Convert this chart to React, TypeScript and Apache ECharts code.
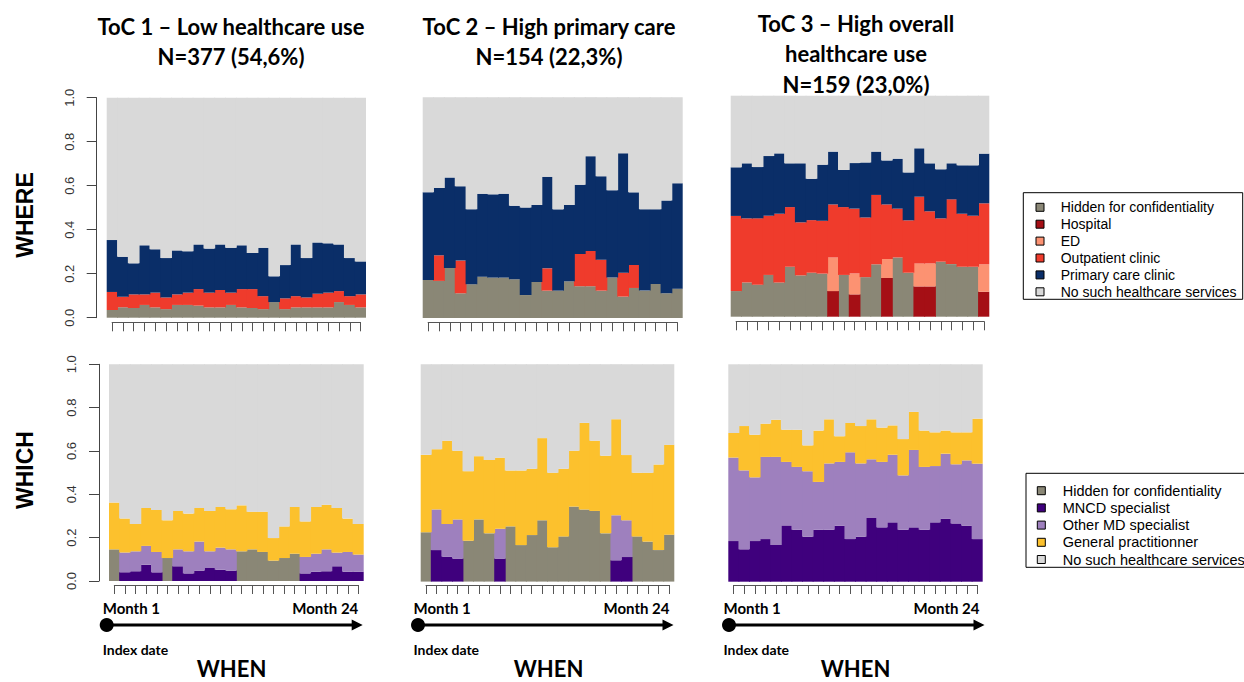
import React, { useEffect, useRef } from "react";
import * as echarts from "echarts";

// ---------- data ----------
const months = ["1","2","3","4","5","6","7","8","9","10","11","12","13","14","15","16","17","18","19","20","21","22","23","24"];

const whereNames = ["Hidden for confidentiality", "Hospital", "ED", "Outpatient clinic", "Primary care clinic", "No such healthcare services"];
const whichNames = ["Hidden for confidentiality", "MNCD specialist", "Other MD specialist", "General practitionner", "No such healthcare services"];

const titles = [
  ["ToC 1 – Low healthcare use", "N=377 (54,6%)"],
  ["ToC 2 – High primary care", "N=154 (22,3%)"],
  ["ToC 3 – High overall", "healthcare use", "N=159 (23,0%)"],
];

// WHERE — ToC 1
const toc1Hidden = [0.035,0.047,0.044,0.058,0.047,0.039,0.058,0.058,0.055,0.047,0.047,0.058,0.047,0.044,0.039,0.071,0.039,0.047,0.047,0.047,0.047,0.071,0.058,0.047];
const toc1Hospital = [0,0,0,0,0,0,0,0,0,0,0,0,0,0,0,0,0,0,0,0,0,0,0,0];
const toc1ED = [0,0,0,0,0,0,0,0,0,0,0,0,0,0,0,0,0,0,0,0,0,0,0,0];
const toc1Outpatient = [0.082,0.048,0.062,0.048,0.067,0.053,0.048,0.056,0.075,0.067,0.079,0.056,0.083,0.086,0.059,0,0.049,0.051,0.045,0.062,0.067,0.050,0.040,0.059];
const toc1Primary = [0.236,0.182,0.141,0.223,0.197,0.179,0.200,0.188,0.203,0.200,0.207,0.204,0.199,0.164,0.220,0.117,0.151,0.235,0.179,0.233,0.224,0.212,0.173,0.150];

// WHERE — ToC 2
const toc2Hidden = [0.172,0.168,0.227,0.112,0.153,0.187,0.183,0.183,0.175,0.104,0.163,0.124,0.124,0.166,0.144,0.144,0.124,0.183,0.097,0.136,0.124,0.154,0.112,0.133];
const toc2Hospital = [0,0,0,0,0,0,0,0,0,0,0,0,0,0,0,0,0,0,0,0,0,0,0,0];
const toc2ED = [0,0,0,0,0,0,0,0,0,0,0,0,0,0,0,0,0,0,0,0,0,0,0,0];
const toc2Outpatient = [0,0.116,0,0.148,0,0,0,0,0,0,0,0.101,0,0,0.146,0.160,0.140,0,0.108,0.104,0,0,0,0];
const toc2Primary = [0.397,0.305,0.409,0.337,0.339,0.376,0.377,0.380,0.333,0.396,0.349,0.415,0.368,0.346,0.313,0.429,0.378,0.396,0.541,0.329,0.368,0.338,0.420,0.477];

// WHERE — ToC 3
const toc3Hidden = [0.116,0.155,0.145,0.189,0.155,0.226,0.187,0.199,0.195,0,0.189,0,0.179,0.237,0,0.268,0.199,0,0,0.249,0.238,0.226,0.226,0];
const toc3Hospital = [0,0,0,0,0,0,0,0,0,0.116,0,0.101,0,0,0.175,0,0,0.137,0.137,0,0,0,0,0.113];
const toc3ED = [0,0,0,0,0,0,0,0,0,0.152,0,0.094,0,0,0.086,0,0,0.104,0.104,0,0,0,0,0.124];
const toc3Outpatient = [0.340,0.290,0.300,0.268,0.311,0.270,0.240,0.238,0.239,0.240,0.307,0.294,0.270,0.314,0.247,0.221,0.237,0.302,0.236,0.196,0.293,0.240,0.231,0.276];
const toc3Primary = [0.220,0.249,0.232,0.270,0.273,0.198,0.267,0.187,0.254,0.239,0.168,0.206,0.249,0.196,0.199,0.226,0.217,0.219,0.217,0.222,0.163,0.219,0.228,0.225];

// WHICH — ToC 1
const toc1WHidden = [0.146,0,0,0,0,0.106,0,0,0,0,0,0,0.137,0.146,0.134,0.094,0.106,0.126,0,0,0,0,0,0];
const toc1Mncd = [0,0.040,0.045,0.075,0.040,0,0.068,0.035,0.048,0.060,0.052,0.048,0,0,0,0,0,0,0.035,0.043,0.045,0.068,0.043,0.043];
const toc1Other = [0,0.091,0.092,0.087,0.094,0,0.078,0.102,0.134,0.077,0.102,0.098,0,0,0,0,0,0,0.076,0.083,0.101,0.063,0.091,0.079];
const toc1Gp = [0.216,0.157,0.126,0.175,0.194,0.174,0.177,0.174,0.155,0.186,0.188,0.185,0.212,0.174,0.186,0.104,0.146,0.216,0.164,0.216,0.206,0.206,0.154,0.141];

// WHICH — ToC 2
const toc2WHidden = [0.227,0,0,0,0.188,0.286,0.222,0,0.254,0.168,0.214,0.282,0.158,0.208,0.345,0.332,0.325,0.222,0,0,0.208,0.184,0.145,0.216];
const toc2Mncd = [0,0.145,0.115,0.106,0,0,0,0.106,0,0,0,0,0,0,0,0,0,0,0.098,0.113,0,0,0,0];
const toc2Other = [0,0.187,0.150,0.180,0,0,0,0.137,0,0,0,0,0,0,0,0,0,0,0.207,0.169,0,0,0,0];
const toc2Gp = [0.356,0.277,0.383,0.316,0.320,0.291,0.337,0.327,0.257,0.343,0.305,0.378,0.343,0.311,0.257,0.398,0.323,0.357,0.442,0.300,0.293,0.317,0.394,0.413];

// WHICH — ToC 3
const toc3WHidden = [0,0,0,0,0,0,0,0,0,0,0,0,0,0,0,0,0,0,0,0,0,0,0,0];
const toc3Mncd = [0.187,0.149,0.187,0.196,0.169,0.259,0.239,0.207,0.239,0.239,0.258,0.196,0.207,0.293,0.250,0.273,0.239,0.250,0.239,0.273,0.290,0.268,0.258,0.196];
const toc3Other = [0.384,0.363,0.293,0.378,0.405,0.292,0.289,0.301,0.220,0.305,0.293,0.399,0.337,0.270,0.301,0.311,0.250,0.356,0.289,0.259,0.299,0.272,0.300,0.347];
const toc3Gp = [0.113,0.204,0.196,0.153,0.171,0.148,0.171,0.119,0.236,0.203,0.118,0.135,0.172,0.184,0.158,0.135,0.167,0.175,0.167,0.155,0.106,0.147,0.129,0.207];

const yTicks = [0, 0.2, 0.4, 0.6, 0.8, 1.0];

// ---------- styling ----------
const whereColors = ["#8a8776", "#a50f15", "#fc9272", "#ef3b2c", "#0a2e68", "#d9d9d9"];
const whichColors = ["#8a8776", "#3f007d", "#9e80be", "#fcc12d", "#d9d9d9"];

const whereData = [
  [toc1Hidden, toc1Hospital, toc1ED, toc1Outpatient, toc1Primary],
  [toc2Hidden, toc2Hospital, toc2ED, toc2Outpatient, toc2Primary],
  [toc3Hidden, toc3Hospital, toc3ED, toc3Outpatient, toc3Primary],
];
const whichData = [
  [toc1WHidden, toc1Mncd, toc1Other, toc1Gp],
  [toc2WHidden, toc2Mncd, toc2Other, toc2Gp],
  [toc3WHidden, toc3Mncd, toc3Other, toc3Gp],
];

// plot boxes (px)
const boxes = [
  { left: 106.7, top: 97.7, width: 259.3, height: 220, tickY: 322.3 },
  { left: 422.7, top: 97.2, width: 260, height: 220.8, tickY: 322.3 },
  { left: 730.7, top: 95.7, width: 258.6, height: 221, tickY: 321.3 },
  { left: 109, top: 364.3, width: 254.7, height: 216.7, tickY: 585 },
  { left: 420.7, top: 364.2, width: 253.6, height: 217.4, tickY: 585 },
  { left: 728.3, top: 364.3, width: 254.4, height: 217.4, tickY: 585 },
];

const TITLE_FONT = "Lato, 'Open Sans', sans-serif";
const ARIAL = "'Liberation Sans', Arial, sans-serif";

function buildOption() {
  const grid: any[] = [];
  const xAxis: any[] = [];
  const yAxis: any[] = [];
  const series: any[] = [];

  boxes.forEach((b, i) => {
    const isWhere = i < 3;
    const col = i % 3;
    const names = isWhere ? whereNames : whichNames;
    const colors = isWhere ? whereColors : whichColors;
    const parts = isWhere ? whereData[col] : whichData[col];
    const bw = b.width / 24;
    // bar grid
    grid.push({ left: b.left, top: b.top, width: b.width, height: b.height, containLabel: false });
    const gi = grid.length - 1;
    xAxis.push({
      type: "category", gridIndex: gi, data: months, boundaryGap: true,
      axisLine: { show: false }, axisTick: { show: false }, axisLabel: { show: false },
    });
    yAxis.push({
      type: "value", gridIndex: gi, min: 0, max: 1, interval: 0.2,
      show: col === 0, offset: 10, splitLine: { show: false },
      axisLine: { show: true, lineStyle: { color: "#444", width: 1 } },
      axisTick: { show: true, length: 10, lineStyle: { color: "#444" } },
      axisLabel: {
        show: true, rotate: 90, margin: 21, color: "#333", fontSize: 13, fontFamily: ARIAL,
        formatter: (v: number) => (yTicks.indexOf(Math.round(v * 10) / 10) >= 0 ? v.toFixed(1) : ""),
      },
    });
    const allParts = [...parts];
    const none = months.map((_, k) => Math.max(0, 1 - parts.reduce((s, arr) => s + arr[k], 0)));
    allParts.push(none);
    allParts.forEach((arr, si) => {
      series.push({
        type: "bar", name: names[si], xAxisIndex: gi, yAxisIndex: gi, stack: "s" + i,
        data: arr.map((v) => (v > 0 ? v : null)), barWidth: bw + 0.9,
        itemStyle: { color: colors[si], borderWidth: 0 },
        emphasis: { disabled: true }, silent: true,
      });
    });

    // tick axis grid (R-style axis spanning bar centres)
    grid.push({ left: b.left + bw / 2, top: b.tickY - 20, width: b.width - bw, height: 20, containLabel: false });
    const ai = grid.length - 1;
    xAxis.push({
      type: "category", gridIndex: ai, data: months, boundaryGap: false, position: "bottom",
      axisLine: { show: true, lineStyle: { color: "#555", width: 1 } },
      axisTick: { show: true, length: 9, interval: 0, lineStyle: { color: "#555", width: 1 } },
      axisLabel: { show: false }, splitLine: { show: false },
    });
    yAxis.push({ type: "value", gridIndex: ai, show: false, min: 0, max: 1 });
  });

  // ---------- graphics ----------
  const graphic: any[] = [];
  const titleCenters = [231, 549, 856];
  titles.forEach((lines, c) => {
    const startY = c === 2 ? 23 : 26;
    lines.forEach((t, k) => {
      graphic.push({
        type: "text", x: titleCenters[c], y: startY + k * 30.5,
        style: { text: t, align: "center", verticalAlign: "middle", font: `bold 22px ${TITLE_FONT}`, fill: "#000" },
      });
    });
  });
  // row labels
  [["WHERE", 215], ["WHICH", 470]].forEach(([t, y]) => {
    graphic.push({
      type: "text", x: 25, y: y as number, rotation: Math.PI / 2,
      style: { text: t as string, align: "center", verticalAlign: "middle", font: `bold 23px ${ARIAL}`, fill: "#000" },
    });
  });

  // timeline under each column
  const tl = [
    { m1: 102.7, m24: 358.3, cx: 106.7, tip: 362.7, when: 231.5 },
    { m1: 413.5, m24: 669.5, cx: 418, tip: 673.5, when: 548.5 },
    { m1: 723.5, m24: 979.5, cx: 729, tip: 984.5, when: 855.5 },
  ];
  tl.forEach((t) => {
    graphic.push({ type: "text", x: t.m1, y: 608, style: { text: "Month 1", align: "left", verticalAlign: "middle", font: `bold 15px ${TITLE_FONT}`, fill: "#000" } });
    graphic.push({ type: "text", x: t.m24, y: 608, style: { text: "Month 24", align: "right", verticalAlign: "middle", font: `bold 15px ${TITLE_FONT}`, fill: "#000" } });
    graphic.push({ type: "line", shape: { x1: t.cx, y1: 625, x2: t.tip - 9, y2: 625 }, style: { stroke: "#000", lineWidth: 3 } });
    graphic.push({ type: "polygon", shape: { points: [[t.tip, 625], [t.tip - 11, 619.5], [t.tip - 11, 630.5]] }, style: { fill: "#000" } });
    graphic.push({ type: "circle", shape: { cx: t.cx, cy: 625, r: 7 }, style: { fill: "#000" } });
    graphic.push({ type: "text", x: t.m1, y: 649, style: { text: "Index date", align: "left", verticalAlign: "middle", font: `bold 14px ${TITLE_FONT}`, fill: "#000" } });
    graphic.push({ type: "text", x: t.when, y: 668, style: { text: "WHEN", align: "center", verticalAlign: "middle", font: `bold 22px ${TITLE_FONT}`, fill: "#000" } });
  });

  // legends
  const legends = [
    { x: 1023.3, y: 192.7, w: 219.4, h: 106.6, first: 207.3, gap: 16.9, sq: 1036, tx: 1060.7, fs: 14, names: whereNames, colors: whereColors },
    { x: 1026, y: 473.3, w: 240, h: 94, first: 490.7, gap: 17.2, sq: 1037.3, tx: 1062.7, fs: 14.5, names: whichNames, colors: whichColors },
  ];
  legends.forEach((l) => {
    graphic.push({ type: "rect", shape: { x: l.x, y: l.y, width: l.w, height: l.h }, style: { fill: "#fff", stroke: "#000", lineWidth: 1 } });
    l.names.forEach((n, k) => {
      const cy = l.first + k * l.gap;
      graphic.push({ type: "rect", shape: { x: l.sq, y: cy - 4, width: 8, height: 8 }, style: { fill: l.colors[k], stroke: "#000", lineWidth: 1 } });
      graphic.push({ type: "text", x: l.tx, y: cy, style: { text: n, align: "left", verticalAlign: "middle", font: `${l.fs}px ${ARIAL}`, fill: "#000" } });
    });
  });

  return { animation: false, backgroundColor: "#fff", grid, xAxis, yAxis, series, graphic };
}

export default function App() {
  const ref = useRef<HTMLDivElement>(null);
  useEffect(() => {
    const chart = echarts.init(ref.current!, null, { renderer: "svg" });
    chart.setOption(buildOption() as any);
    return () => chart.dispose();
  }, []);
  return <div ref={ref} style={{ position: "fixed", left: 0, top: 0, width: 1244, height: 682, background: "#fff" }} />;
}
